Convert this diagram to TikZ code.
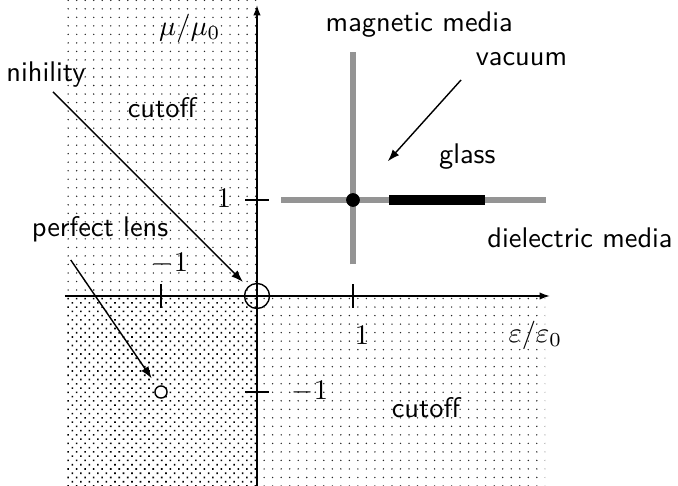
\documentclass[tikz,border=0pt]{standalone}
\usepackage{amsmath,amssymb}
\usepackage{tikz}
\usetikzlibrary{arrows.meta,patterns.meta}
\tikzset{
  lightdots/.style={pattern={Dots[distance=3pt,radius=0.28pt]},pattern color=black!85},
  densedots/.style={pattern={Dots[distance=2.12pt,angle=45,radius=0.4pt]},pattern color=black},
  axisarr/.style={-{Latex[length=3.6pt,width=2.6pt]},line width=0.5pt},
  pointer/.style={-{Latex[length=4.2pt,width=3pt]},line width=0.5pt},
  medialine/.style={draw=black!42,line width=2.4pt},
  glassbar/.style={draw=black,line width=3.2pt},
  tag/.style={font=\sffamily,inner sep=0pt},
  ticklbl/.style={inner sep=0pt}
}

\begin{document}
\begin{tikzpicture}[x=1.188cm,y=1.188cm]
  \useasboundingbox (-2.677,-1.979) rectangle (4.385,3.083);

  % shaded quadrants
  \fill[lightdots] (-2,0) rectangle (0,3.1);
  \fill[densedots] (-2,-2) rectangle (0,0);
  \fill[lightdots] (0,-2) rectangle (3,0);

  % axes and ticks
  \draw[axisarr] (-2,0) -- (3.05,0);
  \draw[axisarr] (0,-2) -- (0,3.03);
  \draw[line width=0.5pt] (-1,-0.12) -- (-1,0.12) (1,-0.12) -- (1,0.12);
  \draw[line width=0.5pt] (-0.12,1) -- (0.12,1) (-0.12,-1) -- (0.12,-1);
  \node[ticklbl] (xm) at (-0.906,0.333) {$-1$};
  \node[ticklbl] (xp) at (1.094,-0.406) {$1$};
  \node[ticklbl] (yp) at (-0.344,1.02) {$1$};
  \node[ticklbl] (ym) at (0.55,-0.99) {$-1$};
  \node[ticklbl] (mu) at (-0.70,2.79) {$\mu/\mu_0$};
  \node[ticklbl] (eps) at (2.90,-0.41) {$\varepsilon/\varepsilon_0$};

  % media lines
  \draw[medialine] (0.25,1) -- (3.01,1);
  \draw[medialine,line width=2pt] (1,0.33) -- (1,2.54);
  \draw[glassbar] (1.375,1) -- (2.375,1);

  % marked points
  \node[circle,fill=black,inner sep=0pt,minimum size=1.7mm] (vac) at (1,1) {};
  \node[circle,draw,fill=white,line width=0.5pt,inner sep=0pt,minimum size=1.5mm] (lens) at (-1,-1) {};
  \node[circle,draw,line width=0.5pt,inner sep=0pt,minimum size=3.1mm] (nul) at (0,0) {};

  % labels
  \node[tag] (nih) at (-2.198,2.31) {nihility};
  \node[tag] (cutup) at (-0.99,1.96) {cutoff};
  \node[tag] (cutlo) at (1.76,-1.16) {cutoff};
  \node[tag] (perf) at (-1.635,0.70) {perfect lens};
  \node[tag] (magn) at (1.69,2.83) {magnetic media};
  \node[tag] (vacu) at (2.755,2.47) {vacuum};
  \node[tag] (glass) at (2.19,1.45) {glass};
  \node[tag] (diel) at (3.365,0.61) {dielectric media};

  \coordinate (nihtail) at (-2.125,2.125);
  \coordinate (perftail) at (-1.94,0.375);
  \coordinate (vactail) at (2.125,2.25);
  \draw[pointer,shorten >=2.3pt] (nihtail) -- (nul);
  \draw[pointer,shorten >=3.4pt] (perftail) -- (lens);
  \draw[pointer,shorten >=15.7pt] (vactail) -- (vac);
\end{tikzpicture}
\end{document}
